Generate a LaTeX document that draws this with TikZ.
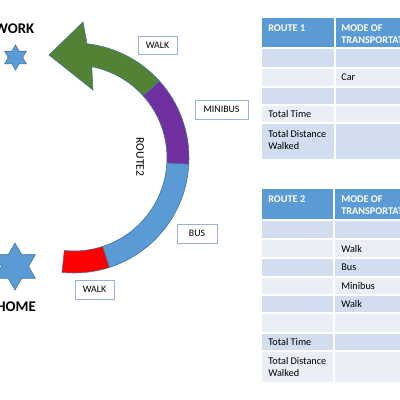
\documentclass[tikz,border=0pt]{standalone}
\usepackage{fontspec}
\setmainfont{Carlito}
\usepackage{xcolor}
\usepackage{tikz}
\usetikzlibrary{shapes,calc}
\newdimen\px \px=0.025cm
\definecolor{officeblue}{HTML}{5B9BD5}
\definecolor{edgeblue}{HTML}{41719C}
\definecolor{walkgreen}{HTML}{548235}
\definecolor{minibusviolet}{HTML}{7030A0}
\definecolor{boxblue}{HTML}{9AB3D2}
\definecolor{rowdark}{HTML}{D2DEEF}
\definecolor{rowlight}{HTML}{EAEFF7}
\tikzstyle{tsBand} = [
    draw=edgeblue,
    line width=0.4pt
]
\tikzstyle{tsStar} = [
    star,
    star points=6,
    star point ratio=1.732,
    inner sep=0pt,
    fill=officeblue,
    draw=edgeblue,
    line width=0.4pt
]
\tikzstyle{tsPlace} = [
    text=black,
    font=\fontsize{10.5}{12}\selectfont\bfseries,
    inner sep=0pt,
    anchor=east
]
\tikzstyle{tsLabelBox} = [
    rectangle,
    draw=boxblue,
    fill=white,
    line width=0.6pt,
    inner sep=0pt,
    minimum height=19\px,
    font=\fontsize{7}{8}\selectfont
]
\tikzstyle{tsCell} = [
    text=black,
    inner sep=0pt,
    align=left,
    font=\fontsize{7.3}{8.3}\selectfont
]
\tikzstyle{tsHead} = [
    tsCell,
    text=white,
    font=\fontsize{7.3}{8.5}\selectfont\bfseries,
    anchor=north west
]

\begin{document}
\begin{tikzpicture}[x=1\px, y=1\px]

    \useasboundingbox (0,0) rectangle (400,400);
    \clip (0,0) rectangle (400,400);

    % places
    \node[tsPlace] (work) at (34.5,371) {WORK};
    \node[tsStar, minimum size=25\px] (workstar) at (15.5,342.5) {};
    \node[tsStar, minimum size=47\px] (homestar) at (15,133.5) {};
    \node[tsPlace] (home) at (36,93) {HOME};

    % route 2 arrow
    \coordinate (hub) at (74,242);
    \fill[red, tsBand] ($(hub)+(-96:115)$) arc[start angle=-96, end angle=-72, radius=115]
        -- ($(hub)+(-72:93)$) arc[start angle=-72, end angle=-96, radius=93] -- cycle;
    \fill[officeblue, tsBand] ($(hub)+(-72:115)$) arc[start angle=-72, end angle=-3, radius=115]
        -- ($(hub)+(-3:93)$) arc[start angle=-3, end angle=-72, radius=93] -- cycle;
    \fill[minibusviolet, tsBand] ($(hub)+(-3:115)$) arc[start angle=-3, end angle=42, radius=115]
        -- ($(hub)+(42:93)$) arc[start angle=42, end angle=-3, radius=93] -- cycle;
    \fill[walkgreen, tsBand] ($(hub)+(42:115)$) arc[start angle=42, end angle=83.5, radius=115]
        -- (83,378) -- (49,345) -- (93,310)
        -- ($(hub)+(79:93)$) arc[start angle=79, end angle=42, radius=93] -- cycle;

    \node[rotate=-90, inner sep=0pt, font=\fontsize{8.3}{9}\selectfont] (routetwo) at (140,243) {ROUTE2};

    % mode labels
    \node[tsLabelBox, minimum width=39\px, minimum height=18\px] (walkend) at (157.5,355) {WALK};
    \node[tsLabelBox, minimum width=53\px] (minibus) at (221.5,290.5) {MINIBUS};
    \node[tsLabelBox, minimum width=40\px] (bus) at (197,166.5) {BUS};
    \node[tsLabelBox, minimum width=39\px] (walkstart) at (94.5,110.5) {WALK};

    % table route 1
    \fill[officeblue] (262,352) rectangle (410,382);
    \foreach \ytop/\ybot/\shade in {352/332/rowdark, 332/313/rowlight, 313/295/rowdark,
                                   295/277/rowlight, 277/241/rowdark}
        \fill[\shade] (262,\ybot) rectangle (410,\ytop);
    \foreach \yline in {352,332,313,295,277}
        \draw[white, line width=0.8pt] (262,\yline) -- (410,\yline);
    \draw[white, line width=0.8pt] (335,241) -- (335,382);

    \node[tsHead] (headone) at (268,375.3) {ROUTE 1};
    \node[tsHead] (modeone) at (341,375.3) {MODE OF\\TRANSPORTATION};
    \node[tsCell, anchor=west] (car) at (341,322.5) {Car};
    \node[tsCell, anchor=west] (timeone) at (268,286) {Total Time};
    \node[tsCell, anchor=north west] (distone) at (268,269.5) {Total Distance\\Walked};

    % table route 2
    \fill[officeblue] (262,180) rectangle (410,211);
    \foreach \ytop/\ybot/\shade in {180/161/rowdark, 161/142/rowlight, 142/123/rowdark,
                                   123/105/rowlight, 105/87/rowdark, 87/67/rowlight,
                                   67/49/rowdark, 49/18/rowlight}
        \fill[\shade] (262,\ybot) rectangle (410,\ytop);
    \foreach \yline in {180,161,142,123,105,87,67,49}
        \draw[white, line width=0.8pt] (262,\yline) -- (410,\yline);
    \draw[white, line width=0.8pt] (334,18) -- (334,211);

    \node[tsHead] (headtwo) at (268,204.3) {ROUTE 2};
    \node[tsHead] (modetwo) at (341,204.3) {MODE OF\\TRANSPORTATION};
    \node[tsCell, anchor=west] (walkone) at (341,151.5) {Walk};
    \node[tsCell, anchor=west] (busrow) at (341,132.5) {Bus};
    \node[tsCell, anchor=west] (minibusrow) at (341,114) {Minibus};
    \node[tsCell, anchor=west] (walktwo) at (341,96) {Walk};
    \node[tsCell, anchor=west] (timetwo) at (268,58) {Total Time};
    \node[tsCell, anchor=north west] (disttwo) at (268,42.5) {Total Distance\\Walked};

\end{tikzpicture}
\end{document}
